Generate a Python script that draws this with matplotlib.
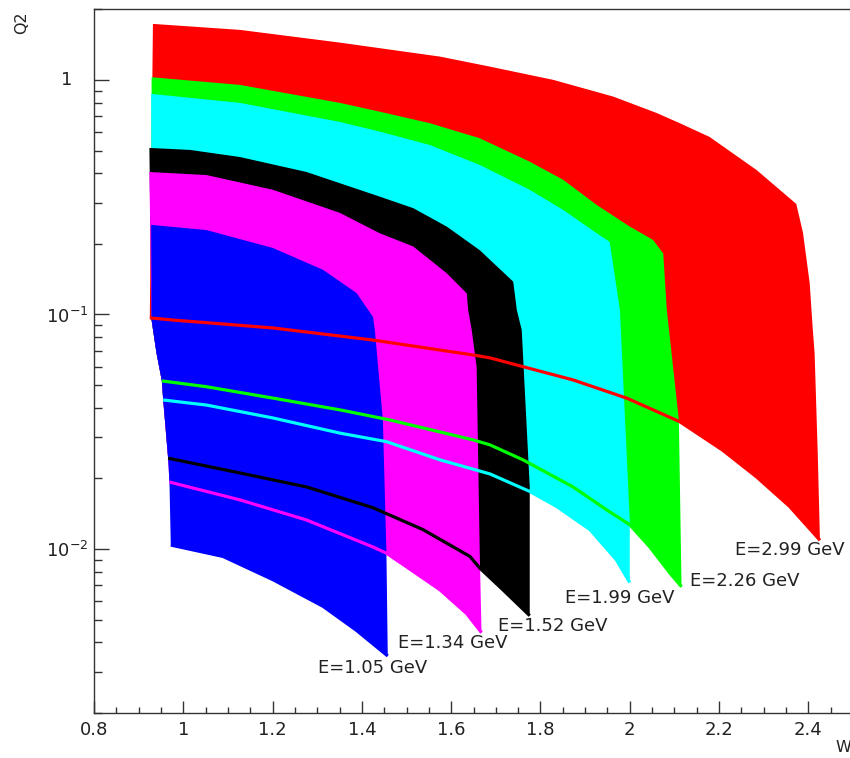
import numpy as np
import matplotlib
matplotlib.use("Agg")
import matplotlib.pyplot as plt
from matplotlib.ticker import FixedLocator, LogLocator, NullFormatter

# beam energies (GeV) and the colour of each kinematic region
energies = [2.99, 2.26, 1.99, 1.52, 1.34, 1.05]
colors = ['#ff0000', '#00ff00', '#00ffff', '#000000', '#ff00ff', '#0000ff']

# upper boundary of each region (W, Q2), left to right
top_W = [
    [0.932, 1.127, 1.351, 1.575, 1.687, 1.829, 1.963, 2.060, 2.112, 2.179, 2.284, 2.373],
    [0.929, 1.127, 1.351, 1.440, 1.552, 1.664, 1.776, 1.851, 1.926, 2.000, 2.052, 2.075],
    [0.928, 1.127, 1.351, 1.440, 1.552, 1.664, 1.776, 1.851, 1.926, 1.955],
    [0.924, 1.015, 1.127, 1.276, 1.440, 1.515, 1.590, 1.664, 1.739],
    [0.924, 1.052, 1.201, 1.351, 1.440, 1.515, 1.590, 1.635],
    [0.928, 1.052, 1.201, 1.313, 1.388, 1.425],
]
top_Q2 = [
    [1.733, 1.634, 1.442, 1.257, 1.139, 1.000, 0.849, 0.723, 0.654, 0.571, 0.413, 0.296],
    [1.027, 0.952, 0.798, 0.732, 0.654, 0.564, 0.448, 0.375, 0.293, 0.237, 0.208, 0.182],
    [0.872, 0.798, 0.662, 0.602, 0.528, 0.434, 0.340, 0.279, 0.222, 0.204],
    [0.513, 0.503, 0.469, 0.405, 0.318, 0.284, 0.237, 0.188, 0.138],
    [0.405, 0.393, 0.340, 0.271, 0.222, 0.195, 0.150, 0.123],
    [0.241, 0.229, 0.192, 0.155, 0.1235, 0.0976],
]

# steep right-hand edge, top to bottom tip
edge_W = [
    [2.388, 2.403, 2.410, 2.414, 2.421, 2.426],
    [2.083, 2.110, 2.116],
    [1.978, 2.000, 2.000],
    [1.747, 1.758, 1.776, 1.776],
    [1.638, 1.646, 1.657, 1.664, 1.668],
    [1.429, 1.447, 1.455, 1.458],
]
edge_Q2 = [
    [0.223, 0.136, 0.0859, 0.0685, 0.0257, 0.0109],
    [0.1045, 0.0355, 0.0069],
    [0.1045, 0.0133, 0.0072],
    [0.1045, 0.0859, 0.0184, 0.0052],
    [0.1045, 0.0859, 0.0599, 0.0096, 0.0044],
    [0.0859, 0.0355, 0.0096, 0.0035],
]

# lower boundary (minimum angle), left to bottom tip -- also drawn as a line
low_W = [
    [0.925, 0.977, 1.201, 1.425, 1.649, 1.687, 1.761, 1.873, 1.993, 2.112, 2.208, 2.284, 2.358, 2.426],
    [0.952, 1.052, 1.201, 1.351, 1.463, 1.649, 1.687, 1.761, 1.873, 1.948, 2.000, 2.045, 2.090, 2.116],
    [0.955, 1.052, 1.201, 1.351, 1.455, 1.575, 1.687, 1.776, 1.836, 1.911, 1.970, 2.000],
    [0.966, 1.127, 1.276, 1.425, 1.537, 1.642, 1.664, 1.716, 1.776],
    [0.969, 1.127, 1.276, 1.425, 1.455, 1.500, 1.575, 1.635, 1.668],
    [0.972, 1.089, 1.201, 1.313, 1.388, 1.458],
]
low_Q2 = [
    [0.0967, 0.0947, 0.0876, 0.0778, 0.0672, 0.0653, 0.0599, 0.0526, 0.0440, 0.0349, 0.0264, 0.0203, 0.0152, 0.0109],
    [0.0521, 0.0492, 0.0440, 0.0392, 0.0355, 0.0292, 0.0278, 0.0240, 0.0184, 0.0147, 0.0127, 0.0102, 0.0079, 0.0069],
    [0.0432, 0.0411, 0.0362, 0.0312, 0.0287, 0.0240, 0.0209, 0.0176, 0.0152, 0.0121, 0.0090, 0.0072],
    [0.0244, 0.0211, 0.0184, 0.0150, 0.0121, 0.0093, 0.0083, 0.0067, 0.0052],
    [0.0193, 0.0162, 0.0133, 0.0102, 0.0096, 0.0084, 0.0067, 0.0053, 0.0044],
    [0.0104, 0.0093, 0.0074, 0.0057, 0.0045, 0.0035],
]

# common low-W cut on the left side (bottom to top)
left_W = [0.969, 0.966, 0.955, 0.952, 0.940, 0.929]
left_Q2 = [0.0193, 0.0244, 0.0432, 0.0521, 0.0685, 0.0947]

# where the energy labels sit
label_W = [2.235, 2.135, 1.855, 1.705, 1.481, 1.302]
label_Q2 = [0.00943, 0.00695, 0.00590, 0.00447, 0.00377, 0.00297]

fig = plt.figure(figsize=(8.5, 7.58), dpi=100)
ax = fig.add_axes([94/850, 1-713/758, (853-94)/850, (713-9.3)/758])
ax.set_yscale('log')
ax.set_xlim(0.8, 2.5)
ax.set_ylim(0.002, 2.0)

# filled regions, highest energy first
for i in range(len(energies)):
    q_lo = low_Q2[i][0]
    q_hi = top_Q2[i][0]
    lw = [w for w, q in zip(left_W, left_Q2) if q_lo < q < q_hi]
    lq = [q for q in left_Q2 if q_lo < q < q_hi]
    W = top_W[i] + edge_W[i] + low_W[i][::-1] + lw
    Q = top_Q2[i] + edge_Q2[i] + low_Q2[i][::-1] + lq
    ax.fill(W, Q, color=colors[i], lw=0, zorder=1+i)

# minimum-angle lines on top of everything
for i in range(len(energies)):
    ax.plot(low_W[i], low_Q2[i], color=colors[i], lw=2.3, zorder=10,
            solid_capstyle='butt')

for i in range(len(energies)):
    ax.text(label_W[i], label_Q2[i], 'E=%.2f GeV' % energies[i], fontsize=13,
            color='#222222', ha='left', va='baseline', zorder=11)

# axes in the ROOT look
for s in ax.spines.values():
    s.set_color('#333333')
    s.set_linewidth(1.0)
ax.xaxis.set_major_locator(FixedLocator(np.arange(0.8, 2.51, 0.2)))
ax.xaxis.set_minor_locator(FixedLocator(np.arange(0.8, 2.51, 0.05)))
ax.set_xticklabels(['0.8', '1', '1.2', '1.4', '1.6', '1.8', '2', '2.2', '2.4'])
ax.yaxis.set_major_locator(FixedLocator([0.01, 0.1, 1.0]))
ax.yaxis.set_minor_locator(LogLocator(base=10, subs=np.arange(2, 10)))
ax.yaxis.set_minor_formatter(NullFormatter())
ax.set_yticklabels([r'$10^{-2}$', r'$10^{-1}$', ''])
# the "1" sits further left than the exponent labels, as ROOT draws it
ax.text(-22/759, 1.0, '1', transform=ax.get_yaxis_transform(), fontsize=13,
        color='#222222', ha='right', va='center')
ax.tick_params(axis='x', which='major', direction='in', length=8.6, width=1.0,
               color='#333333', labelsize=13, pad=6, labelcolor='#222222',
               top=False)
ax.tick_params(axis='x', which='minor', direction='in', length=4.3, width=1.0,
               color='#333333', top=False)
ax.tick_params(axis='y', which='major', direction='in', length=10.8, width=1.0,
               color='#333333', labelsize=13, pad=4, labelcolor='#222222',
               right=False)
ax.tick_params(axis='y', which='minor', direction='in', length=5.4, width=1.0,
               color='#333333', right=False)

fig.text(21.5/850, 1-22.5/758, 'Q2', rotation=90, fontsize=11.5,
         color='#222222', ha='center', va='center')
fig.text(835/850, 1-748/758, 'W', fontsize=11.5, color='#222222',
         ha='left', va='center')

fig.savefig('out.png', dpi=100)
